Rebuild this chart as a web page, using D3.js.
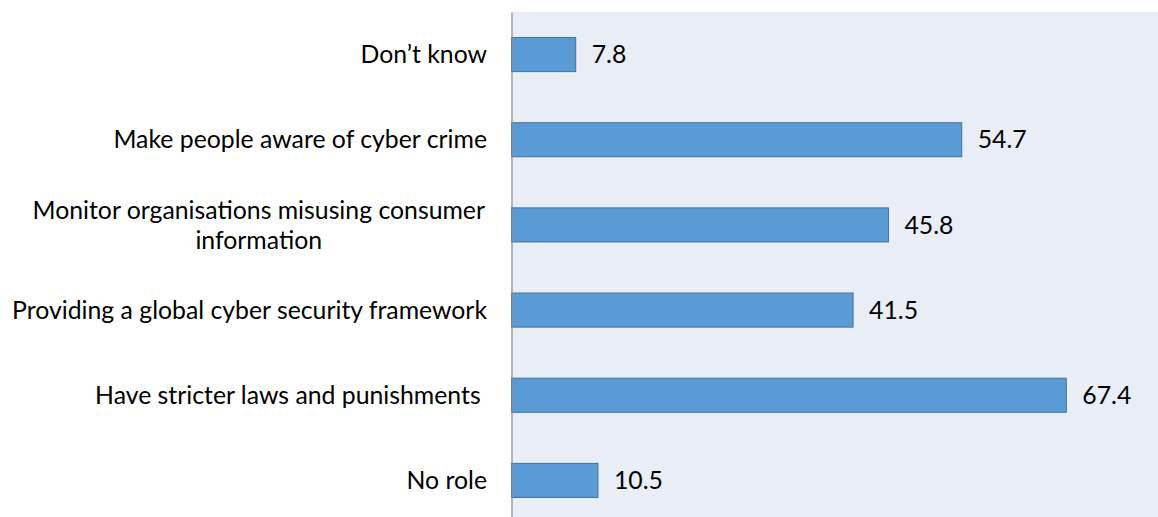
<!DOCTYPE html>
<html>
<head>
<meta charset="utf-8">
<script src="https://cdn.jsdelivr.net/npm/d3@7"></script>
<style>
  html, body { margin: 0; padding: 0; background: #ffffff; }
  svg { display: block; }
  text { white-space: pre; }
</style>
</head>
<body>
<svg id="chart" width="1158" height="517"></svg>
<script>
// Survey responses: role that should be played (percent of respondents)
const categories = [
  "Don\u2019t know",
  "Make people aware of cyber crime",
  "Monitor organisations misusing consumer information",
  "Providing a global cyber security framework",
  "Have stricter laws and punishments ",
  "No role"
];
const values = [7.8, 54.7, 45.8, 41.5, 67.4, 10.5];

// Category labels split across lines where they wrap
const labelLines = [
  ["Don\u2019t know"],
  ["Make people aware of cyber crime"],
  ["Monitor organisations misusing consumer", "information"],
  ["Providing a global cyber security framework"],
  ["Have stricter laws and punishments "],
  ["No role"]
];

const plot = { left: 511.5, top: 12, right: 1170, bottom: 523 };
const FONT = "Lato, 'Open Sans', sans-serif";
const FS = 24.8;

const svg = d3.select("#chart");

const x = d3.scaleLinear().domain([0, 80]).range([plot.left, plot.right]);
const y = d3.scaleBand().domain(categories).range([plot.top, plot.bottom]).paddingInner(0.6).paddingOuter(0.3);

// plot background
svg.append("rect")
  .attr("x", plot.left).attr("y", plot.top)
  .attr("width", plot.right - plot.left).attr("height", plot.bottom - plot.top)
  .attr("fill", "#e9edf6");

// bars
svg.selectAll("rect.bar")
  .data(categories)
  .join("rect")
  .attr("class", "bar")
  .attr("x", x(0))
  .attr("y", d => y(d))
  .attr("width", (d, i) => x(values[i]) - x(0))
  .attr("height", y.bandwidth())
  .attr("fill", "#5b9bd5")
  .attr("stroke", "#41719c")
  .attr("stroke-width", 1);

// value labels
svg.selectAll("text.val")
  .data(categories)
  .join("text")
  .attr("class", "val")
  .attr("x", (d, i) => x(values[i]) + 16)
  .attr("y", d => y(d) + y.bandwidth() / 2)
  .attr("dy", "0.35em")
  .attr("font-family", FONT)
  .attr("font-size", FS)
  .attr("fill", "#000")
  .text((d, i) => values[i].toFixed(1));

// category axis
const axis = svg.append("g").attr("transform", `translate(${plot.left},0)`)
  .call(d3.axisLeft(y).tickSize(0).tickFormat(""));
axis.select(".domain").attr("stroke", "#8c8c8c").attr("stroke-width", 1.2);

const labelRight = 487;
const lineGap = 30;
categories.forEach((c, i) => {
  const lines = labelLines[i];
  const cy = y(c) + y.bandwidth() / 2;
  const t = svg.append("text")
    .attr("font-family", FONT)
    .attr("font-size", FS)
    .attr("fill", "#000");
  if (lines.length === 1) {
    t.attr("text-anchor", "end")
      .attr("x", labelRight).attr("y", cy).attr("dy", "0.35em")
      .text(lines[0]);
  } else {
    // centred block whose widest line ends at the label edge
    const tmp = svg.append("text").attr("font-family", FONT).attr("font-size", FS).text(lines[0]);
    const wMax = tmp.node().getComputedTextLength();
    tmp.remove();
    const cx = labelRight - 2 - wMax / 2;
    lines.forEach((ln, k) => {
      t.append("tspan")
        .attr("text-anchor", "middle")
        .attr("x", cx)
        .attr("y", cy + (k - (lines.length - 1) / 2) * lineGap)
        .attr("dy", "0.35em")
        .text(ln);
    });
  }
});
</script>
</body>
</html>
